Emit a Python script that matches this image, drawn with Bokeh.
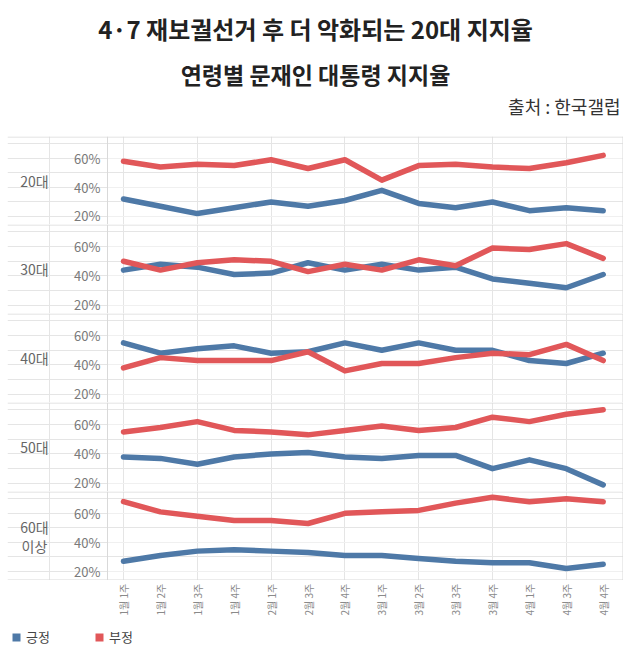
from bokeh.plotting import figure
from bokeh.models import (Range1d, Label, LinearAxis, FixedTicker, Grid, Span,
                          PrintfTickFormatter, Legend, LegendItem)
from bokeh.layouts import column
from bokeh.embed import file_html
from bokeh.resources import INLINE

FONT = "Noto Sans CJK KR"
BLUE = "#4e79a7"
RED = "#e15759"
LINE_GRAY = "#d9d9d9"

title_text = "4·7 재보궐선거 후 더 악화되는 20대 지지율"
subtitle_text = "연령별 문재인 대통령 지지율"
source_text = "출처 : 한국갤럽"

weeks = ["1월 1주", "1월 2주", "1월 3주", "1월 4주", "2월 1주", "2월 3주", "2월 4주",
         "3월 1주", "3월 2주", "3월 3주", "3월 4주", "4월 1주", "4월 3주", "4월 4주"]
age_groups = ["20대", "30대", "40대", "50대", "60대\n이상"]
series_names = ["긍정", "부정"]

pos_20 = [32, 27, 22, 26, 30, 27, 31, 38, 29, 26, 30, 24, 26, 24]
neg_20 = [58, 54, 56, 55, 59, 53, 59, 45, 55, 56, 54, 53, 57, 62]
pos_30 = [44, 48, 46, 41, 42, 49, 44, 48, 44, 46, 38, 35, 32, 41]
neg_30 = [50, 44, 49, 51, 50, 43, 48, 44, 51, 47, 59, 58, 62, 52]
pos_40 = [55, 48, 51, 53, 48, 49, 55, 50, 55, 50, 50, 43, 41, 48]
neg_40 = [38, 45, 43, 43, 43, 49, 36, 41, 41, 45, 48, 47, 54, 43]
pos_50 = [38, 37, 33, 38, 40, 41, 38, 37, 39, 39, 30, 36, 30, 19]
neg_50 = [55, 58, 62, 56, 55, 53, 56, 59, 56, 58, 65, 62, 67, 70]
pos_60 = [27, 31, 34, 35, 34, 33, 31, 31, 29, 27, 26, 26, 22, 25]
neg_60 = [68, 61, 58, 55, 55, 53, 60, 61, 62, 67, 71, 68, 70, 68]

positives = [pos_20, pos_30, pos_40, pos_50, pos_60]
negatives = [neg_20, neg_30, neg_40, neg_50, neg_60]
y_ticks = [20, 40, 60]
x_idx = list(range(len(weeks)))

# geometry (pixels inside each figure, whose left edge is the page x=7)
FIG_W = 616
FIRST_PX = 116.0     # x pixel of the first week
STEP_PX = 36.9       # pixels per week
AXIS_PX = 100.0      # x pixel of the vertical axis line
panel_heights = [88, 89, 89, 89, 89]
y_ranges = [(14.5, 75), (14.5, 75), (14.5, 75), (14.5, 75), (13.8, 75)]


def make_x_range():
    return Range1d(-FIRST_PX / STEP_PX, (FIG_W - FIRST_PX) / STEP_PX)


axis_x = (AXIS_PX - FIRST_PX) / STEP_PX


def rule(p, dimension, loc):
    p.add_layout(Span(dimension=dimension, location=loc, location_units="screen",
                      line_color=LINE_GRAY, line_width=1))


# ---------- header ----------
header = figure(width=FIG_W, height=136, x_range=(0, 1), y_range=(0, 1),
                x_axis_location=None, y_axis_location=None, toolbar_location=None,
                output_backend="svg", min_border=0, outline_line_color=None,
                border_fill_color="white")
header.grid.visible = False
header.add_layout(Label(x=308, y=108, x_units="screen", y_units="screen", text=title_text,
                        text_font=FONT, text_font_size="24px", text_font_style="bold",
                        text_color="#222222", text_align="center", text_baseline="middle"))
header.add_layout(Label(x=308, y=63, x_units="screen", y_units="screen", text=subtitle_text,
                        text_font=FONT, text_font_size="23px", text_font_style="bold",
                        text_color="#222222", text_align="center", text_baseline="middle"))
header.add_layout(Label(x=613, y=31, x_units="screen", y_units="screen", text=source_text,
                        text_font=FONT, text_font_size="18px",
                        text_color="#333333", text_align="right", text_baseline="middle"))

# ---------- panels ----------
panels = []
for i, grp in enumerate(age_groups):
    fh = panel_heights[i]
    p = figure(width=FIG_W, height=fh, x_range=make_x_range(), y_range=Range1d(*y_ranges[i]),
               min_border=0, x_axis_location=None, y_axis_location=None,
               toolbar_location=None, output_backend="svg", outline_line_color=None,
               border_fill_color="white", background_fill_color="white")
    yax = LinearAxis(ticker=FixedTicker(ticks=y_ticks), formatter=PrintfTickFormatter(format="%d%%"),
                     fixed_location=axis_x,
                     major_tick_line_color=None, minor_tick_line_color=None,
                     major_tick_out=0, major_tick_in=0, minor_tick_out=0, minor_tick_in=0,
                     major_label_standoff=7, axis_line_color=LINE_GRAY,
                     major_label_text_font=FONT, major_label_text_font_size="13px",
                     major_label_text_color="#7a7a7a")
    p.add_layout(yax, "left")
    grid = Grid(dimension=1, ticker=FixedTicker(ticks=y_ticks), grid_line_color="#f0f0f0")
    if "cross_bounds" in Grid.properties():
        grid.cross_bounds = (axis_x, p.x_range.end)
    p.add_layout(grid)
    p.line(x=x_idx, y=positives[i], line_color=BLUE, line_width=5.5,
           line_join="round", line_cap="round")
    p.line(x=x_idx, y=negatives[i], line_color=RED, line_width=5.5,
           line_join="round", line_cap="round")
    # separator rule on the top row and border on the right column
    rule(p, "width", fh - 0.5)
    rule(p, "height", FIG_W - 0.5)
    if i == len(age_groups) - 1:
        rule(p, "width", 0.5)
    p.add_layout(Label(x=27, y=fh / 2, x_units="screen", y_units="screen", text=grp,
                       text_font=FONT, text_font_size="14px", text_color="#666666",
                       text_align="center", text_baseline="middle", text_line_height=0.95))
    panels.append(p)

# ---------- footer (week labels + legend) ----------
footer = figure(width=FIG_W, height=75, x_range=make_x_range(), y_range=Range1d(0, 1),
                min_border_left=0, min_border_right=0, min_border_top=4, min_border_bottom=0,
                x_axis_location=None, y_axis_location=None, toolbar_location=None,
                output_backend="svg", outline_line_color=None, border_fill_color="white")
footer.grid.visible = False
xa = LinearAxis(ticker=FixedTicker(ticks=x_idx),
                major_label_overrides={i: w for i, w in enumerate(weeks)},
                major_label_orientation="vertical", axis_line_color=None,
                major_tick_line_color=None, minor_tick_line_color=None,
                major_tick_out=0, major_tick_in=0, minor_tick_out=0, minor_tick_in=0,
                major_label_standoff=3, major_label_text_font=FONT,
                major_label_text_font_size="10px", major_label_text_color="#8a8a8a")
footer.add_layout(xa, "above")

# zero-size legend proxies (only their legend swatches are visible)
r_pos = footer.quad(left=[0], right=[0], top=[0], bottom=[0], fill_color=BLUE, line_color=None)
r_neg = footer.quad(left=[0], right=[0], top=[0], bottom=[0], fill_color=RED, line_color=None)
legend = Legend(items=[LegendItem(label=series_names[0], renderers=[r_pos]),
                       LegendItem(label=series_names[1], renderers=[r_neg])],
                location=(4, 9), orientation="horizontal",
                glyph_width=10, glyph_height=10, label_standoff=5, spacing=44,
                padding=0, margin=0, border_line_color=None, background_fill_alpha=0,
                label_text_font=FONT, label_text_font_size="13px", label_text_color="#444444")
footer.add_layout(legend, "center")

layout = column([header] + panels + [footer], spacing=0, margin=(0, 0, 0, 7))

with open("out.html", "w") as f:
    f.write(file_html(layout, INLINE))
